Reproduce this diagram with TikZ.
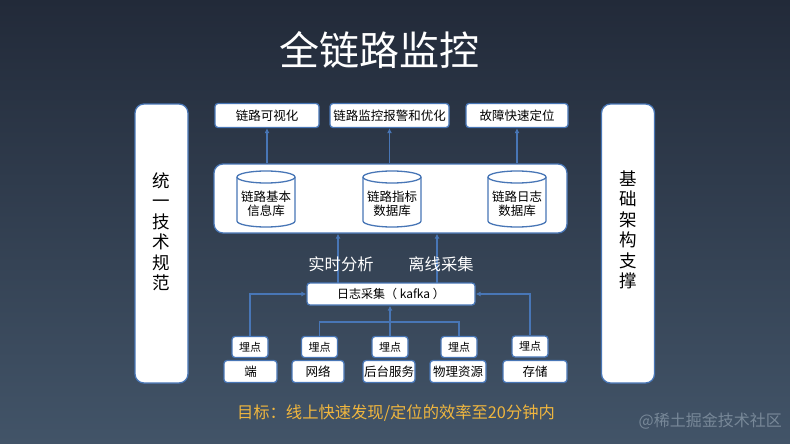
\documentclass[tikz,border=0pt]{standalone}
\usepackage{fontspec}
\setmainfont{Noto Sans CJK SC}
\usetikzlibrary{arrows.meta}
\definecolor{bgtop}{RGB}{34,42,57}
\definecolor{bgbot}{RGB}{66,84,104}
\definecolor{edge}{RGB}{72,118,182}
\definecolor{goal}{RGB}{240,182,62}
\definecolor{wm}{RGB}{120,136,152}
\begin{document}
\begin{tikzpicture}[x=1pt,y=-1pt,
  box/.style={draw=edge, line width=1.3pt, fill=white, rounded corners=3pt, inner sep=0pt, text=black, font=\fontsize{12.5}{14}\selectfont},
  side/.style={box, rounded corners=9pt, minimum width=53pt, minimum height=279pt},
  sidetext/.style={text=black, align=center, font=\fontsize{17.5}{20.5}\selectfont},
  conn/.style={draw=edge, line width=1.3pt},
  arr/.style={conn, -{Latex[length=5pt,width=5pt]}},
  cyltext/.style={align=center, text=black, font=\fontsize{12.5}{13.5}\selectfont, inner sep=0pt},
  mai/.style={box, minimum width=36pt, minimum height=21pt, font=\fontsize{11}{12}\selectfont},
  src/.style={box, minimum height=22pt, font=\fontsize{12.5}{14}\selectfont},
  lbl/.style={text=white, font=\fontsize{16.3}{18}\selectfont, inner sep=0pt}]

\fill[top color=bgtop, bottom color=bgbot] (0,0) rectangle (790,444);
\useasboundingbox (0,0) rectangle (790,444);

% title
\node[text=white, font=\fontsize{40}{42}\selectfont, inner sep=0pt] (title) at (379,50) {全链路监控};

% side boxes
\node[side] (left) at (161.5,243.5) {};
\node[sidetext] (lefttext) at (161.5,232) {统\\一\\技\\术\\规\\范};
\node[side] (right) at (628,243.5) {};
\node[sidetext] (righttext) at (628,230) {基\\础\\架\\构\\支\\撑};

% top boxes
\node[box, minimum width=104pt, minimum height=24pt] (a1) at (267,115.5) {链路可视化};
\node[box, minimum width=119pt, minimum height=24pt] (a2) at (389.5,115.5) {链路监控报警和优化};
\node[box, minimum width=102pt, minimum height=24pt] (a3) at (517,115.5) {故障快速定位};

% big storage box
\node[box, rounded corners=9pt, minimum width=353pt, minimum height=69pt] (store) at (390.5,198.5) {};

% cylinders
\foreach \cx/\nm/\txt in {266/c1/{链路基本\\信息库}, 392/c2/{链路指标\\数据库}, 517/c3/{链路日志\\数据库}}{
  \filldraw[draw=edge, line width=1.3pt, fill=white]
    (\cx-29,177) -- (\cx-29,221) arc(180:0:29 and 6) -- (\cx+29,177);
  \filldraw[draw=edge, line width=1.3pt, fill=white] (\cx,177) ellipse (29 and 6);
  \node[cyltext] (\nm) at (\cx,204) {\txt};
}

% arrows store -> top boxes
\draw[arr] (store.north -| a1) -- (a1.south);
\draw[arr] (store.north -| a2) -- (a2.south);
\draw[arr] (store.north -| a3) -- (a3.south);

% kafka
\node[box, minimum width=168pt, minimum height=22pt, font=\fontsize{12}{14}\selectfont] (kafka) at (391,294) {日志采集（ kafka ）};

\coordinate (k1) at (338,283);
\coordinate (k2) at (437,283);
\draw[arr] (k1) -- (k1 |- store.south);
\draw[arr] (k2) -- (k2 |- store.south);

\node[lbl] (rt) at (341,264) {实时分析};
\node[lbl] (lx) at (441,264) {离线采集};

% bottom sources
\node[src, minimum width=53pt] (s1) at (250.5,371.5) {端};
\node[src, minimum width=52pt] (s2) at (318,371.5) {网络};
\node[src, minimum width=52pt] (s3) at (389,371.5) {后台服务};
\node[src, minimum width=56pt] (s4) at (458,371.5) {物理资源};
\node[src, minimum width=64pt] (s5) at (535,371.5) {存储};

\node[mai] (m1) at (250,347) {埋点};
\node[mai] (m2) at (319.5,347) {埋点};
\node[mai] (m3) at (390,347) {埋点};
\node[mai] (m4) at (459,347) {埋点};
\node[mai] (m5) at (530,346.5) {埋点};

% connectors
\draw[arr] (m1.north) |- (kafka.west);
\draw[arr] (m5.north) |- (kafka.east);
\coordinate (bus) at (390,322);
\draw[conn] (m2.north) |- (bus) -| (m4.north);
\draw[arr] (m3.north) -- (kafka.south -| m3.north);

% goal
\node[text=goal, font=\fontsize{16.3}{18}\selectfont, inner sep=0pt] (goaltext) at (396,413) {目标：线上快速发现/定位的效率至20分钟内};

% watermark
\node[text=wm, font=\fontsize{16}{18}\selectfont, inner sep=0pt, anchor=east] (wmark) at (782,421) {@稀土掘金技术社区};
\end{tikzpicture}
\end{document}
